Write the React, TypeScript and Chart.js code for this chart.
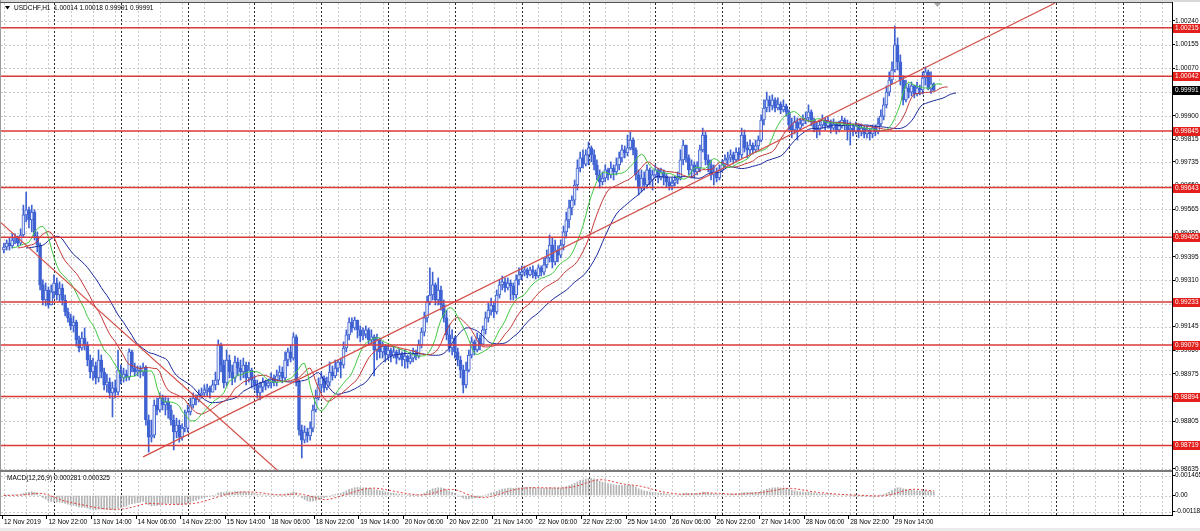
import React, { useEffect, useRef } from "react";
import { Chart, registerables } from "chart.js";
Chart.register(...registerables);

// ---------- data ----------
const symbolTitle = "USDCHF,H1  1.00014 1.00018 0.99991 0.99991";
const macdTitle = "MACD(12,26,9) 0.000281 0.000325";

const firstOpen = 0.99419;
const closes = [
  0.99430, 0.99444, 0.99434, 0.99455, 0.99462, 0.99444, 0.99473, 0.99545, 0.99563, 0.99527,
  0.99555, 0.99469, 0.99437, 0.99294, 0.99240, 0.99276, 0.99222, 0.99269, 0.99301, 0.99258,
  0.99283, 0.99240, 0.99197, 0.99176, 0.99147, 0.99161, 0.99097, 0.99068, 0.99104, 0.99079,
  0.99025, 0.98982, 0.99004, 0.98961, 0.99025, 0.98982, 0.98936, 0.98946, 0.98907, 0.98925,
  0.98910, 0.98989, 0.98961, 0.98975, 0.98964, 0.99054, 0.98996, 0.98982, 0.98989, 0.98982,
  0.99000, 0.98810, 0.98749, 0.98756, 0.98864, 0.98846, 0.98889, 0.98864, 0.98875, 0.98846,
  0.98810, 0.98767, 0.98792, 0.98749, 0.98781, 0.98781, 0.98839, 0.98864, 0.98889, 0.98882,
  0.98900, 0.98907, 0.98918, 0.98925, 0.98910, 0.98936, 0.98953, 0.99079, 0.99007, 0.98943,
  0.99025, 0.98982, 0.98961, 0.99018, 0.98996, 0.98982, 0.99007, 0.98961, 0.98989, 0.98953,
  0.98936, 0.98907, 0.98928, 0.98946, 0.98932, 0.98943, 0.98961, 0.98946, 0.98968, 0.98982,
  0.98961, 0.99025, 0.99054, 0.99032, 0.99108, 0.98946, 0.98774, 0.98738, 0.98767, 0.98753,
  0.98781, 0.98846, 0.98889, 0.98936, 0.98961, 0.98925, 0.98946, 0.98982, 0.98968, 0.98996,
  0.99018, 0.99007, 0.99068, 0.99115, 0.99161, 0.99140, 0.99168, 0.99133, 0.99111, 0.99118,
  0.99133, 0.99097, 0.99108, 0.99061, 0.99097, 0.99054, 0.99075, 0.99043, 0.99061, 0.99039,
  0.99054, 0.99032, 0.99047, 0.99025, 0.99039, 0.99018, 0.99032, 0.99047, 0.99039, 0.99079,
  0.99125, 0.99176, 0.99233, 0.99258, 0.99294, 0.99240, 0.99276, 0.99222, 0.99176, 0.99115,
  0.99068, 0.99104, 0.99054, 0.99025, 0.98989, 0.98936, 0.98989, 0.99043, 0.99090, 0.99061,
  0.99104, 0.99082, 0.99133, 0.99176, 0.99204, 0.99222, 0.99197, 0.99258, 0.99294, 0.99305,
  0.99283, 0.99301, 0.99290, 0.99258, 0.99312, 0.99330, 0.99340, 0.99348, 0.99330, 0.99348,
  0.99340, 0.99326, 0.99355, 0.99340, 0.99366, 0.99391, 0.99437, 0.99376, 0.99419, 0.99401,
  0.99437, 0.99484, 0.99527, 0.99570, 0.99598, 0.99652, 0.99713, 0.99749, 0.99727, 0.99760,
  0.99785, 0.99760, 0.99724, 0.99688, 0.99663, 0.99677, 0.99706, 0.99688, 0.99713, 0.99699,
  0.99724, 0.99749, 0.99778, 0.99767, 0.99785, 0.99813, 0.99778, 0.99688, 0.99641, 0.99677,
  0.99652, 0.99706, 0.99670, 0.99688, 0.99706, 0.99677, 0.99699, 0.99684, 0.99663, 0.99649,
  0.99659, 0.99670, 0.99677, 0.99742, 0.99795, 0.99749, 0.99706, 0.99724, 0.99699, 0.99713,
  0.99778, 0.99831, 0.99742, 0.99724, 0.99688, 0.99699, 0.99677, 0.99706, 0.99724, 0.99742,
  0.99749, 0.99760, 0.99742, 0.99770, 0.99760, 0.99831, 0.99785, 0.99778, 0.99795, 0.99778,
  0.99792, 0.99813, 0.99885, 0.99928, 0.99957, 0.99935, 0.99957, 0.99928, 0.99942, 0.99921,
  0.99935, 0.99914, 0.99867, 0.99849, 0.99878, 0.99856, 0.99871, 0.99885, 0.99892, 0.99914,
  0.99885, 0.99856, 0.99849, 0.99867, 0.99885, 0.99864, 0.99878, 0.99856, 0.99871, 0.99849,
  0.99864, 0.99885, 0.99871, 0.99849, 0.99856, 0.99842, 0.99864, 0.99842, 0.99856, 0.99835,
  0.99849, 0.99835, 0.99856, 0.99842, 0.99871, 0.99899, 0.99939, 0.99985, 1.00028, 1.00064,
  1.00154, 1.00093, 1.00028, 0.99957, 1.00000, 0.99985, 1.00007, 0.99978, 1.00000, 0.99993,
  1.00036, 1.00057, 0.99996, 1.00014, 0.99991,
];
const highs = [
  0.99444, 0.99455, 0.99462, 0.99480, 0.99477, 0.99469, 0.99495, 0.99580, 0.99627, 0.99573,
  0.99580, 0.99563, 0.99484, 0.99444, 0.99312, 0.99301, 0.99287, 0.99294, 0.99330, 0.99319,
  0.99305, 0.99297, 0.99258, 0.99211, 0.99190, 0.99183, 0.99168, 0.99111, 0.99125, 0.99140,
  0.99090, 0.99043, 0.99032, 0.99018, 0.99061, 0.99043, 0.98996, 0.98975, 0.98961, 0.98946,
  0.98953, 0.99061, 0.99007, 0.98996, 0.98989, 0.99065, 0.99061, 0.99014, 0.99004, 0.99004,
  0.99014, 0.99004, 0.98828, 0.98810, 0.98882, 0.98889, 0.98907, 0.98900, 0.98896, 0.98889,
  0.98864, 0.98828, 0.98817, 0.98810, 0.98796, 0.98846, 0.98864, 0.98889, 0.98907, 0.98900,
  0.98918, 0.98925, 0.98936, 0.98939, 0.98932, 0.98953, 0.98982, 0.99097, 0.99086, 0.99025,
  0.99061, 0.99043, 0.99007, 0.99039, 0.99032, 0.99025, 0.99032, 0.99018, 0.99018, 0.98996,
  0.98968, 0.98953, 0.98946, 0.98961, 0.98953, 0.98957, 0.98979, 0.98971, 0.98989, 0.99004,
  0.99000, 0.99054, 0.99068, 0.99079, 0.99122, 0.99115, 0.98953, 0.98792, 0.98789, 0.98781,
  0.98803, 0.98864, 0.98918, 0.98961, 0.98982, 0.98968, 0.98964, 0.99018, 0.99004, 0.99025,
  0.99025, 0.99032, 0.99090, 0.99133, 0.99176, 0.99176, 0.99179, 0.99161, 0.99147, 0.99140,
  0.99147, 0.99140, 0.99133, 0.99115, 0.99118, 0.99104, 0.99090, 0.99079, 0.99079, 0.99068,
  0.99075, 0.99061, 0.99065, 0.99054, 0.99061, 0.99043, 0.99054, 0.99068, 0.99061, 0.99097,
  0.99140, 0.99197, 0.99254, 0.99355, 0.99340, 0.99301, 0.99319, 0.99290, 0.99240, 0.99204,
  0.99151, 0.99133, 0.99111, 0.99068, 0.99039, 0.99007, 0.99018, 0.99061, 0.99108, 0.99097,
  0.99122, 0.99115, 0.99147, 0.99197, 0.99229, 0.99247, 0.99233, 0.99276, 0.99312, 0.99326,
  0.99319, 0.99319, 0.99312, 0.99301, 0.99330, 0.99355, 0.99362, 0.99362, 0.99355, 0.99358,
  0.99362, 0.99348, 0.99366, 0.99362, 0.99391, 0.99419, 0.99473, 0.99462, 0.99455, 0.99434,
  0.99455, 0.99505, 0.99555, 0.99598, 0.99613, 0.99670, 0.99742, 0.99770, 0.99778, 0.99778,
  0.99806, 0.99792, 0.99778, 0.99742, 0.99706, 0.99699, 0.99724, 0.99713, 0.99735, 0.99724,
  0.99749, 0.99770, 0.99795, 0.99792, 0.99831, 0.99842, 0.99821, 0.99785, 0.99706, 0.99706,
  0.99699, 0.99724, 0.99713, 0.99706, 0.99724, 0.99713, 0.99713, 0.99706, 0.99692, 0.99677,
  0.99677, 0.99684, 0.99699, 0.99778, 0.99813, 0.99785, 0.99760, 0.99742, 0.99735, 0.99735,
  0.99795, 0.99856, 0.99842, 0.99760, 0.99742, 0.99724, 0.99713, 0.99724, 0.99742, 0.99760,
  0.99770, 0.99778, 0.99770, 0.99785, 0.99785, 0.99856, 0.99849, 0.99806, 0.99813, 0.99803,
  0.99813, 0.99828, 0.99903, 0.99957, 0.99985, 0.99971, 0.99975, 0.99964, 0.99964, 0.99950,
  0.99957, 0.99942, 0.99921, 0.99892, 0.99899, 0.99892, 0.99892, 0.99903, 0.99914, 0.99939,
  0.99921, 0.99892, 0.99878, 0.99885, 0.99903, 0.99892, 0.99896, 0.99885, 0.99889, 0.99878,
  0.99881, 0.99899, 0.99892, 0.99885, 0.99878, 0.99871, 0.99878, 0.99871, 0.99871, 0.99864,
  0.99864, 0.99856, 0.99867, 0.99867, 0.99892, 0.99921, 0.99964, 1.00007, 1.00057, 1.00093,
  1.00222, 1.00179, 1.00118, 1.00043, 1.00028, 1.00014, 1.00021, 1.00010, 1.00021, 1.00010,
  1.00057, 1.00075, 1.00064, 1.00057, 1.00018,
];
const lows = [
  0.99409, 0.99419, 0.99419, 0.99426, 0.99441, 0.99434, 0.99437, 0.99466, 0.99520, 0.99498,
  0.99484, 0.99455, 0.99412, 0.99276, 0.99222, 0.99219, 0.99211, 0.99222, 0.99247, 0.99240,
  0.99233, 0.99222, 0.99183, 0.99161, 0.99133, 0.99125, 0.99075, 0.99054, 0.99061, 0.99061,
  0.99004, 0.98961, 0.98953, 0.98939, 0.98946, 0.98961, 0.98918, 0.98910, 0.98889, 0.98821,
  0.98889, 0.98900, 0.98939, 0.98946, 0.98950, 0.98953, 0.98982, 0.98968, 0.98968, 0.98961,
  0.98968, 0.98792, 0.98695, 0.98731, 0.98746, 0.98828, 0.98839, 0.98846, 0.98828, 0.98817,
  0.98792, 0.98703, 0.98746, 0.98731, 0.98738, 0.98767, 0.98767, 0.98828, 0.98853, 0.98864,
  0.98875, 0.98889, 0.98896, 0.98896, 0.98889, 0.98910, 0.98918, 0.98936, 0.98982, 0.98925,
  0.98932, 0.98961, 0.98936, 0.98946, 0.98968, 0.98953, 0.98961, 0.98936, 0.98946, 0.98925,
  0.98918, 0.98889, 0.98882, 0.98910, 0.98918, 0.98925, 0.98925, 0.98932, 0.98932, 0.98953,
  0.98943, 0.98953, 0.99004, 0.99018, 0.99025, 0.98932, 0.98756, 0.98674, 0.98728, 0.98731,
  0.98738, 0.98767, 0.98839, 0.98882, 0.98910, 0.98910, 0.98918, 0.98932, 0.98953, 0.98961,
  0.98982, 0.98961, 0.98996, 0.99054, 0.99097, 0.99125, 0.99133, 0.99104, 0.99090, 0.99097,
  0.99104, 0.99079, 0.99082, 0.98968, 0.99025, 0.99032, 0.99032, 0.99018, 0.99025, 0.99018,
  0.99032, 0.99011, 0.99025, 0.99004, 0.98996, 0.98996, 0.99011, 0.99018, 0.99025, 0.99032,
  0.99068, 0.99111, 0.99161, 0.99222, 0.99240, 0.99222, 0.99222, 0.99204, 0.99161, 0.99097,
  0.99054, 0.99043, 0.99032, 0.99004, 0.98961, 0.98907, 0.98925, 0.98982, 0.99032, 0.99043,
  0.99054, 0.99061, 0.99079, 0.99118, 0.99161, 0.99186, 0.99176, 0.99190, 0.99247, 0.99276,
  0.99269, 0.99276, 0.99240, 0.99240, 0.99247, 0.99294, 0.99312, 0.99326, 0.99319, 0.99326,
  0.99319, 0.99315, 0.99319, 0.99326, 0.99330, 0.99355, 0.99376, 0.99355, 0.99366, 0.99376,
  0.99391, 0.99419, 0.99462, 0.99498, 0.99545, 0.99580, 0.99634, 0.99699, 0.99713, 0.99720,
  0.99724, 0.99735, 0.99706, 0.99670, 0.99641, 0.99652, 0.99663, 0.99670, 0.99677, 0.99670,
  0.99688, 0.99706, 0.99735, 0.99749, 0.99756, 0.99778, 0.99760, 0.99670, 0.99616, 0.99627,
  0.99634, 0.99641, 0.99652, 0.99634, 0.99677, 0.99659, 0.99670, 0.99652, 0.99645, 0.99634,
  0.99634, 0.99649, 0.99656, 0.99670, 0.99724, 0.99735, 0.99688, 0.99677, 0.99677, 0.99688,
  0.99699, 0.99770, 0.99724, 0.99699, 0.99670, 0.99652, 0.99663, 0.99670, 0.99699, 0.99713,
  0.99724, 0.99735, 0.99727, 0.99735, 0.99742, 0.99749, 0.99770, 0.99749, 0.99760, 0.99763,
  0.99770, 0.99778, 0.99806, 0.99867, 0.99914, 0.99914, 0.99921, 0.99914, 0.99921, 0.99907,
  0.99914, 0.99899, 0.99849, 0.99821, 0.99835, 0.99813, 0.99849, 0.99864, 0.99871, 0.99878,
  0.99864, 0.99842, 0.99821, 0.99831, 0.99856, 0.99849, 0.99856, 0.99838, 0.99849, 0.99835,
  0.99842, 0.99856, 0.99849, 0.99813, 0.99795, 0.99828, 0.99835, 0.99821, 0.99828, 0.99821,
  0.99821, 0.99813, 0.99821, 0.99828, 0.99835, 0.99864, 0.99885, 0.99928, 0.99971, 1.00014,
  1.00057, 1.00064, 1.00010, 0.99939, 0.99950, 0.99964, 0.99971, 0.99964, 0.99971, 0.99975,
  0.99978, 1.00010, 0.99993, 0.99980, 0.99991,
];

const levels = [1.00215, 1.00042, 0.99845, 0.99643, 0.99465, 0.99233, 0.99079, 0.98894, 0.98719];
const lastPrice = 0.99991;
const priceTicks = [
  1.0024, 1.00155, 1.0007, 0.99985, 0.999, 0.99815, 0.99735, 0.9965, 0.99565, 0.9948,
  0.99395, 0.9931, 0.99225, 0.99145, 0.9906, 0.98975, 0.9889, 0.98805, 0.9872, 0.98635,
];
const macdTicks = [0.001465, 0, -0.00118];
const macdTickLabels = ["0.001465", "0.00", "-0.00118"];
const timeLabels = [
  "12 Nov 2019", "12 Nov 22:00", "13 Nov 14:00", "14 Nov 06:00", "14 Nov 22:00", "15 Nov 14:00",
  "18 Nov 06:00", "18 Nov 22:00", "19 Nov 14:00", "20 Nov 06:00", "20 Nov 22:00", "21 Nov 14:00",
  "22 Nov 06:00", "22 Nov 22:00", "25 Nov 14:00", "26 Nov 06:00", "26 Nov 22:00", "27 Nov 14:00",
  "28 Nov 06:00", "28 Nov 22:00", "29 Nov 14:00",
];
const trendUpBars = [50, 377.6];
const trendUpPrices = [0.98678, 1.00304];
const trendDownBars = [-1.4, 98.1];
const trendDownPrices = [0.9952, 0.98631];

// ---------- layout / style constants ----------
const W = 1200;
const MAIN_H = 471;
const MACD_H = 60;
const AXIS_W = 28;
const X_MIN = -1.04;
const X_MAX = 419.57;
const P_MIN = 0.98631;
const P_MAX = 1.00304;
const M_MIN = -0.00143;
const M_MAX = 0.00165;
const LABEL_STEP = 16;
const DAY_FIRST = 18;
const DAY_STEP = 24;
const GRID_STEP = 8;
const FONT = "'Liberation Sans', Arial, sans-serif";
const FS = 6.5;
const BLUE = "#3f62d2";
const BULL_FILL = "#e4e9f7";
const LEVEL_RED = "#dc3a3a";
const GRID = "#cbcbcb";

// ---------- derived series (indicators computed from the data) ----------
const opens = closes.map((c, i) => (i === 0 ? firstOpen : closes[i - 1]));
const medians = highs.map((h, i) => (h + lows[i]) / 2);
function smma(src: number[], n: number) {
  const out: number[] = [];
  let prev = src[0];
  src.forEach((v, i) => {
    prev = i === 0 ? v : (prev * (n - 1) + v) / n;
    out.push(prev);
  });
  return out;
}
function ema(src: number[], n: number) {
  const k = 2 / (n + 1);
  const out: number[] = [];
  let prev = src[0];
  src.forEach((v, i) => {
    prev = i === 0 ? v : prev + k * (v - prev);
    out.push(prev);
  });
  return out;
}
function sma(src: number[], n: number) {
  return src.map((_, i) => {
    const s = Math.max(0, i - n + 1);
    let sum = 0;
    for (let j = s; j <= i; j++) sum += src[j];
    return sum / (i - s + 1);
  });
}
const jaw = smma(medians, 13);
const teeth = smma(medians, 8);
const lips = smma(medians, 5);
const e12 = ema(closes, 12);
const e26 = ema(closes, 26);
const macdMain = e12.map((v, i) => v - e26[i]);
const macdSignal = sma(macdMain, 9);

function vLines(ctx: CanvasRenderingContext2D, x: any, top: number, bottom: number) {
  ctx.save();
  ctx.strokeStyle = GRID;
  ctx.lineWidth = 1;
  ctx.setLineDash([2, 2]);
  for (let b = 0; b <= X_MAX; b += GRID_STEP) {
    const px = Math.round(x.getPixelForValue(b)) + 0.5;
    ctx.beginPath();
    ctx.moveTo(px, top);
    ctx.lineTo(px, bottom);
    ctx.stroke();
  }
  ctx.strokeStyle = "#2a2a2a";
  ctx.setLineDash([2, 2]);
  for (let b = DAY_FIRST; b <= X_MAX; b += DAY_STEP) {
    const px = Math.round(x.getPixelForValue(b)) + 0.5;
    ctx.beginPath();
    ctx.moveTo(px, top);
    ctx.lineTo(px, bottom);
    ctx.stroke();
  }
  ctx.restore();
}

function hLines(ctx: CanvasRenderingContext2D, y: any, ticks: number[], left: number, right: number) {
  ctx.save();
  ctx.strokeStyle = GRID;
  ctx.lineWidth = 1;
  ctx.setLineDash([2, 2]);
  ticks.forEach((v) => {
    const py = Math.round(y.getPixelForValue(v)) + 0.5;
    ctx.beginPath();
    ctx.moveTo(left, py);
    ctx.lineTo(right, py);
    ctx.stroke();
  });
  ctx.restore();
}

function priceBox(ctx: CanvasRenderingContext2D, py: number, text: string, bg: string) {
  ctx.fillStyle = bg;
  ctx.fillRect(1173, Math.round(py) - 4, W - 1173, 9);
  ctx.fillStyle = "#fff";
  ctx.font = `${FS}px ${FONT}`;
  ctx.textAlign = "left";
  ctx.textBaseline = "middle";
  ctx.fillText(text, 1175, Math.round(py) + 0.5);
}

const mainPlugin = {
  id: "mainDecor",
  beforeDraw(chart: any) {
    const { ctx } = chart;
    ctx.save();
    ctx.fillStyle = "#fff";
    ctx.fillRect(0, 0, W, MAIN_H);
    ctx.restore();
  },
  beforeDatasetsDraw(chart: any) {
    const { ctx, chartArea: a, scales } = chart;
    hLines(ctx, scales.y, priceTicks, a.left, a.right);
    vLines(ctx, scales.x, a.top, a.bottom);
  },
  afterDraw(chart: any) {
    const { ctx, chartArea: a, scales } = chart;
    const y = scales.y;
    ctx.save();
    ctx.fillStyle = "#d8d8d8";
    ctx.fillRect(0, 0, W, 2);
    ctx.fillStyle = "#9a9a9a";
    ctx.fillRect(0, 0, 1, MAIN_H);
    ctx.strokeStyle = "#555";
    ctx.lineWidth = 1;
    ctx.beginPath();
    ctx.moveTo(0, 2.5);
    ctx.lineTo(a.right, 2.5);
    ctx.stroke();
    ctx.strokeStyle = "#000";
    ctx.beginPath();
    ctx.moveTo(a.right + 0.5, 2);
    ctx.lineTo(a.right + 0.5, MAIN_H);
    ctx.stroke();
    ctx.strokeStyle = "#7a7a7a";
    ctx.beginPath();
    ctx.moveTo(0, 470.5);
    ctx.lineTo(a.right, 470.5);
    ctx.stroke();
    levels.forEach((v) => priceBox(ctx, y.getPixelForValue(v), v.toFixed(5), "#e3201b"));
    priceBox(ctx, y.getPixelForValue(lastPrice), lastPrice.toFixed(5), "#000");
    ctx.fillStyle = "#000";
    ctx.beginPath();
    ctx.moveTo(5, 6);
    ctx.lineTo(10, 6);
    ctx.lineTo(7.5, 9.5);
    ctx.closePath();
    ctx.fill();
    ctx.font = `${FS}px ${FONT}`;
    ctx.textAlign = "left";
    ctx.textBaseline = "middle";
    ctx.fillText(symbolTitle, 14, 8);
    ctx.fillStyle = "#a8a8a8";
    ctx.beginPath();
    ctx.moveTo(934, 3);
    ctx.lineTo(941, 3);
    ctx.lineTo(937.5, 7);
    ctx.closePath();
    ctx.fill();
    ctx.restore();
  },
};

const macdPlugin = {
  id: "macdDecor",
  beforeDraw(chart: any) {
    const { ctx } = chart;
    ctx.save();
    ctx.fillStyle = "#fff";
    ctx.fillRect(0, 0, W, 57);
    ctx.fillStyle = "#ececec";
    ctx.fillRect(0, 57, W, MACD_H - 57);
    ctx.restore();
  },
  beforeDatasetsDraw(chart: any) {
    const { ctx, chartArea: a, scales } = chart;
    hLines(ctx, scales.y, macdTicks, a.left, a.right);
    vLines(ctx, scales.x, a.top, a.bottom);
  },
  afterDraw(chart: any) {
    const { ctx, chartArea: a, scales } = chart;
    const x = scales.x;
    ctx.save();
    ctx.fillStyle = "#9a9a9a";
    ctx.fillRect(0, 0, 1, 45);
    ctx.strokeStyle = "#7a7a7a";
    ctx.lineWidth = 1;
    ctx.beginPath();
    ctx.moveTo(0, 0.5);
    ctx.lineTo(a.right, 0.5);
    ctx.stroke();
    ctx.strokeStyle = "#000";
    ctx.beginPath();
    ctx.moveTo(a.right + 0.5, 0);
    ctx.lineTo(a.right + 0.5, a.bottom + 0.5);
    ctx.moveTo(0, a.bottom + 0.5);
    ctx.lineTo(a.right + 0.5, a.bottom + 0.5);
    ctx.stroke();
    ctx.fillStyle = "#000";
    ctx.font = `${FS}px ${FONT}`;
    ctx.textAlign = "left";
    ctx.textBaseline = "middle";
    ctx.fillText(macdTitle, 7, 7);
    timeLabels.forEach((t, k) => {
      const px = x.getPixelForValue(k * LABEL_STEP);
      const tx = Math.round(px) - 1.5;
      ctx.beginPath();
      ctx.moveTo(tx, a.bottom);
      ctx.lineTo(tx, a.bottom + 4);
      ctx.stroke();
      ctx.fillText(t, px, 51);
    });
    ctx.restore();
  },
};

const baseY = (ticks: number[], fmt: (v: number) => string, min: number, max: number) => ({
  position: "right" as const,
  min,
  max,
  afterBuildTicks: (s: any) => {
    s.ticks = ticks.map((v) => ({ value: v }));
  },
  afterFit: (s: any) => {
    s.width = AXIS_W;
    s.paddingTop = 0;
    s.paddingBottom = 0;
  },
  grid: { display: true, drawOnChartArea: false, drawTicks: true, tickLength: 3, color: "#000" },
  border: { display: true, color: "#000" },
  ticks: {
    autoSkip: false,
    padding: 0,
    color: "#000",
    font: { family: FONT, size: FS },
    callback: (v: any) => fmt(Number(v)),
  },
});

const baseX = {
  type: "linear" as const,
  min: X_MIN,
  max: X_MAX,
  offset: false,
  display: false,
};

export default function App() {
  const mainRef = useRef<HTMLCanvasElement>(null);
  const macdRef = useRef<HTMLCanvasElement>(null);

  useEffect(() => {
    const wickData = closes.map((c, i) => ({
      x: i,
      y: [Math.min(lows[i], opens[i], c), Math.max(highs[i], opens[i], c)],
    }));
    const bodyData = closes.map((c, i) => ({ x: i, y: [opens[i], c] }));
    const bull = closes.map((c, i) => c >= opens[i]);
    const lineDs = (data: any[], color: string, order: number, extra: any = {}) => ({
      type: "line" as const,
      data,
      borderColor: color,
      borderWidth: 1,
      pointRadius: 0,
      tension: 0,
      fill: false,
      order,
      ...extra,
    });

    const main = new Chart(mainRef.current!, {
      type: "bar",
      data: {
        datasets: [
          ...levels.map((v) =>
            lineDs([{ x: X_MIN, y: v }, { x: X_MAX, y: v }], LEVEL_RED, 1, { borderWidth: 1.5 })
          ),
          lineDs(trendUpBars.map((b, i) => ({ x: b, y: trendUpPrices[i] })), "#d4504a", 1, { borderWidth: 1.2 }),
          lineDs(trendDownBars.map((b, i) => ({ x: b, y: trendDownPrices[i] })), "#d4504a", 1, { borderWidth: 1.2 }),
          lineDs(lips.map((v, i) => ({ x: i + 3, y: v })), "#44c844", 2),
          lineDs(teeth.map((v, i) => ({ x: i + 5, y: v })), "#c43a3a", 2),
          lineDs(jaw.map((v, i) => ({ x: i + 8, y: v })), "#1c2a9e", 2),
          {
            type: "bar" as const,
            data: bodyData as any,
            grouped: false,
            barThickness: 3,
            minBarLength: 1,
            borderSkipped: false,
            borderWidth: 1,
            borderColor: BLUE,
            backgroundColor: bull.map((b) => (b ? BULL_FILL : BLUE)),
            order: 3,
          },
          {
            type: "bar" as const,
            data: wickData as any,
            grouped: false,
            barThickness: 1,
            minBarLength: 1,
            borderWidth: 0,
            backgroundColor: BLUE,
            order: 4,
          },
        ] as any,
      },
      options: {
        animation: false,
        responsive: false,
        devicePixelRatio: 1,
        events: [],
        layout: { padding: { left: 1, top: 3, right: 0, bottom: 1 } },
        plugins: { legend: { display: false }, tooltip: { enabled: false } },
        scales: {
          x: baseX,
          y: baseY(priceTicks, (v) => v.toFixed(5), P_MIN, P_MAX),
        } as any,
      },
      plugins: [mainPlugin],
    });

    const macd = new Chart(macdRef.current!, {
      type: "bar",
      data: {
        datasets: [
          lineDs(macdSignal.map((v, i) => ({ x: i, y: v })), "#e23b3b", 1, { borderDash: [2, 2] }),
          {
            type: "bar" as const,
            data: macdMain.map((v, i) => ({ x: i, y: v })) as any,
            grouped: false,
            barThickness: 1,
            borderWidth: 0,
            backgroundColor: "#b4b4b4",
            order: 2,
          },
        ] as any,
      },
      options: {
        animation: false,
        responsive: false,
        devicePixelRatio: 1,
        events: [],
        layout: { padding: { left: 1, top: 2, right: 0, bottom: 16 } },
        plugins: { legend: { display: false }, tooltip: { enabled: false } },
        scales: {
          x: baseX,
          y: baseY(
            macdTicks,
            (v) => macdTickLabels[macdTicks.findIndex((t) => Math.abs(t - v) < 1e-9)] ?? "",
            M_MIN,
            M_MAX
          ),
        } as any,
      },
      plugins: [macdPlugin],
    });

    return () => {
      main.destroy();
      macd.destroy();
    };
  }, []);

  return (
    <div
      style={{
        position: "fixed",
        left: 0,
        top: 0,
        width: W,
        height: 531,
        background: "#ececec",
        overflow: "hidden",
      }}
    >
      <canvas
        ref={mainRef}
        width={W}
        height={MAIN_H}
        style={{ position: "absolute", left: 0, top: 0, width: W, height: MAIN_H }}
      />
      <canvas
        ref={macdRef}
        width={W}
        height={MACD_H}
        style={{ position: "absolute", left: 0, top: MAIN_H, width: W, height: MACD_H }}
      />
    </div>
  );
}
